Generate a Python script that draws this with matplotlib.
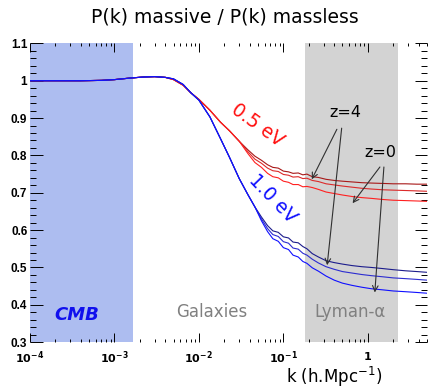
import numpy as np
import matplotlib
matplotlib.use("Agg")
import matplotlib.pyplot as plt
from matplotlib.ticker import FixedLocator, MultipleLocator, NullFormatter, LogLocator

# Wavenumber grid (h/Mpc)
k = [1e-4, 2e-4, 4e-4, 7e-4, 1e-3, 1.5e-3, 2.2e-3, 3e-3, 4e-3, 5e-3, 6.5e-3, 8e-3,
     0.01, 0.0135, 0.018, 0.023, 0.03, 0.038, 0.046, 0.055, 0.065, 0.075, 0.087,
     0.1, 0.115, 0.13, 0.15, 0.17, 0.19, 0.22, 0.26, 0.32, 0.4, 0.5, 0.65, 0.85,
     1.1, 1.5, 2.0, 2.8, 3.8, 5.0]

# Large-scale part shared by all curves
common = [1.000, 1.000, 1.000, 1.001, 1.003, 1.007, 1.010, 1.011, 1.009]

# 0.5 eV : z=4 (top), intermediate, z=0 (bottom)
red_shared = [1.003, 0.988, 0.968, 0.950, 0.921, 0.889, 0.866, 0.838]
red_z4 = [0.815, 0.798, 0.787, 0.775, 0.768, 0.766, 0.758, 0.756, 0.752, 0.753, 0.748,
          0.750, 0.743, 0.741, 0.736, 0.733, 0.731, 0.729, 0.727, 0.726, 0.725, 0.724,
          0.724, 0.723, 0.723]
red_mid = [0.810, 0.790, 0.779, 0.766, 0.759, 0.757, 0.749, 0.747, 0.742, 0.743, 0.738,
           0.739, 0.733, 0.730, 0.724, 0.721, 0.718, 0.715, 0.712, 0.710, 0.708, 0.707,
           0.706, 0.705, 0.704]
red_z0 = [0.805, 0.781, 0.768, 0.752, 0.743, 0.740, 0.731, 0.728, 0.722, 0.722, 0.716,
          0.717, 0.714, 0.709, 0.702, 0.698, 0.694, 0.690, 0.687, 0.685, 0.682, 0.680,
          0.679, 0.678, 0.677]

# 1.0 eV : z=4 (top), intermediate, z=0 (bottom)
blue_shared = [1.005, 0.990, 0.968, 0.948, 0.903, 0.845, 0.795, 0.738, 0.695, 0.662]
blue_z4 = [0.635, 0.612, 0.598, 0.594, 0.582, 0.579, 0.568, 0.566, 0.556, 0.550, 0.537,
           0.528, 0.518, 0.513, 0.509, 0.505, 0.502, 0.500, 0.497, 0.494, 0.491, 0.489,
           0.487]
blue_mid = [0.630, 0.604, 0.588, 0.583, 0.569, 0.565, 0.552, 0.549, 0.538, 0.533, 0.522,
            0.512, 0.502, 0.495, 0.489, 0.485, 0.481, 0.478, 0.475, 0.472, 0.470, 0.468,
            0.466]
blue_z0 = [0.625, 0.596, 0.577, 0.570, 0.553, 0.548, 0.533, 0.528, 0.516, 0.511, 0.499,
           0.490, 0.477, 0.466, 0.458, 0.452, 0.447, 0.443, 0.440, 0.437, 0.435, 0.433,
           0.431]

cmb_range = (1e-4, 1.65e-3)
lya_range = (0.18, 2.3)

y_ticks = [0.3, 0.4, 0.5, 0.6, 0.7, 0.8, 0.9, 1.0, 1.1]
y_tick_labels = ["0.3", "0.4", "0.5", "0.6", "0.7", "0.8", "0.9", "1", "1.1"]
x_ticks = [1e-4, 1e-3, 1e-2, 1e-1, 1]
x_tick_labels = [r"$\mathbf{10^{-4}}$", r"$\mathbf{10^{-3}}$", r"$\mathbf{10^{-2}}$",
                 r"$\mathbf{10^{-1}}$", r"$\mathbf{1}$"]

red_curves = [(common + red_shared + red_z4, "#a81818"),
              (common + red_shared + red_mid, "#dc2a2a"),
              (common + red_shared + red_z0, "#ff2020")]
blue_curves = [(common + blue_shared + blue_z4, "#1c1c8c"),
               (common + blue_shared + blue_mid, "#2c2cd0"),
               (common + blue_shared + blue_z0, "#1010ff")]

plt.rcParams["font.family"] = ["DejaVu Sans"]

fig = plt.figure(figsize=(4.29, 3.91), dpi=100)
ax = fig.add_axes([0.070, 0.125, 0.925, 0.764])
ax.set_xscale("log")
ax.set_xlim(1e-4, 5.0)
ax.set_ylim(0.3, 1.1)

ax.axvspan(*cmb_range, color="#adbdf0", zorder=0, lw=0)
ax.axvspan(*lya_range, color="#d3d3d3", zorder=0, lw=0)

for vals, col in red_curves + blue_curves:
    ax.plot(k, vals, color=col, lw=0.8, zorder=3)

for s in ax.spines.values():
    s.set_visible(False)

ax.yaxis.set_major_locator(FixedLocator(y_ticks))
ax.set_yticklabels(y_tick_labels)
ax.yaxis.set_minor_locator(MultipleLocator(0.02))
ax.xaxis.set_major_locator(FixedLocator(x_ticks))
ax.set_xticklabels(x_tick_labels)
ax.xaxis.set_minor_locator(LogLocator(base=10, subs=np.arange(2, 10), numticks=20))
ax.xaxis.set_minor_formatter(NullFormatter())

ax.tick_params(axis="both", which="both", direction="in", top=True, right=True,
               width=0.7, color="black")
ax.tick_params(axis="x", which="major", length=6.5, pad=5.5)
ax.tick_params(axis="x", which="minor", length=2.5)
ax.tick_params(axis="y", which="major", length=9, pad=2)
ax.tick_params(axis="y", which="minor", length=4.5)
for lab in ax.get_yticklabels():
    lab.set_fontweight("bold")
    lab.set_fontfamily("Liberation Sans")
    lab.set_fontsize(8.5)
for lab in ax.get_xticklabels():
    lab.set_fontsize(8)

# Arrows pointing at the z=4 and z=0 curves
arrow_kw = dict(arrowstyle="->", color="#303030", lw=0.8, shrinkA=0, shrinkB=0)
ax.annotate("", xy=(0.217, 0.736), xytext=(0.43, 0.870), arrowprops=arrow_kw, zorder=4)
ax.annotate("", xy=(0.33, 0.506), xytext=(0.49, 0.873), arrowprops=arrow_kw, zorder=4)
ax.annotate("", xy=(0.66, 0.672), xytext=(1.39, 0.769), arrowprops=arrow_kw, zorder=4)
ax.annotate("", xy=(1.21, 0.433), xytext=(1.55, 0.769), arrowprops=arrow_kw, zorder=4)
ax.text(0.535, 0.916, "z=4", fontsize=11.5, ha="center", va="center", color="black")
ax.text(1.39, 0.809, "z=0", fontsize=11.5, ha="center", va="center", color="black")

ax.text(0.0499, 0.881, "0.5 eV", color="#ff1010", fontsize=13.5, rotation=-36,
        ha="center", va="center", rotation_mode="anchor")
ax.text(0.0751, 0.684, "1.0 eV", color="#1010ff", fontsize=13.5, rotation=-46,
        ha="center", va="center", rotation_mode="anchor")

ax.text(3.6e-4, 0.372, "CMB", color="#1010ee", fontsize=13, ha="center", va="center",
        fontstyle="italic", fontweight="bold")
ax.text(0.01426, 0.380, "Galaxies", color="#808080", fontsize=12, ha="center", va="center")
ax.text(0.612, 0.380, "Lyman-\u03b1", color="#808080", fontsize=12, ha="center", va="center")

fig.text(225 / 429, 1 - 17 / 391, "P(k) massive / P(k) massless", fontsize=13.5,
         ha="center", va="center", color="black")
fig.text(334 / 429, 1 - 377 / 391, r"k (h.Mpc$^{-1}$)", fontsize=12,
         ha="center", va="center", color="black")

fig.savefig("out.png", dpi=100)
